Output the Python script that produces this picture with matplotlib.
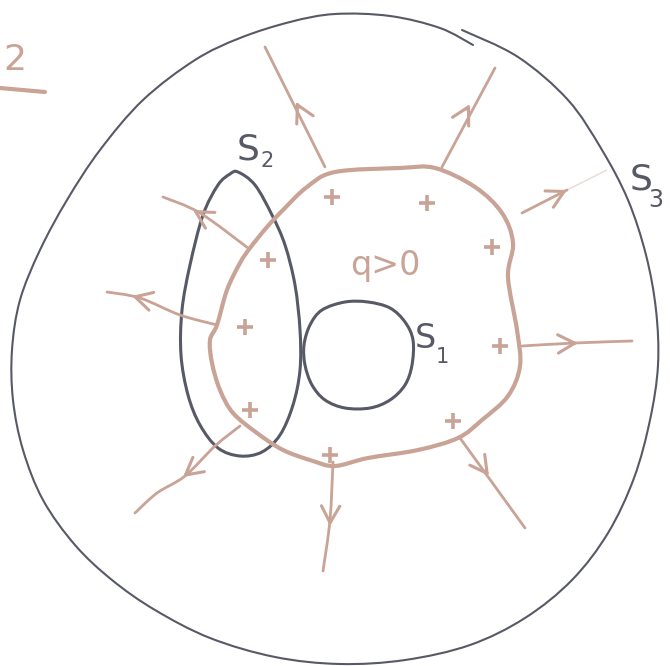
import numpy as np
import matplotlib
matplotlib.use("Agg")
import matplotlib.pyplot as plt
from matplotlib.path import Path
from matplotlib.patches import PathPatch

# ---- shape outlines (image pixel coordinates) ----
big_circle_S3 = [(462,30),(518,57),(568,100),(602,150),(628,200),(646,255),(656,310),
                 (658,365),(650,420),(634,478),(608,533),(572,580),(525,618),(470,645),
                 (405,660),(340,664),(275,657),(210,638),(155,610),(112,580),(75,545),
                 (43,500),(23,450),(13,400),(12,350),(20,300),(40,250),(67,200),(100,150),
                 (143,100),(195,60),(240,38),(290,22),(335,14),(390,16),(440,28),(473,45)]

charge_blob = [(335,172),(400,168),(435,168),(475,187),(502,213),(513,243),(508,277),
               (517,330),(520,366),(508,396),(482,420),(458,438),(418,450),(368,458),
               (335,466),(313,461),(283,450),(257,433),(233,413),(220,390),(212,363),
               (210,340),(217,325),(227,290),(240,263),(250,248),(267,227),(283,210),
               (307,187)]

surface_S2 = [(238,172),(255,185),(272,215),(285,245),(295,285),(300,330),(300,370),
              (293,405),(280,435),(262,452),(240,456),(218,448),(200,425),(188,395),
              (181,355),(182,310),(190,265),(203,215),(218,185),(230,174)]

surface_S1 = [(368,302),(390,308),(405,322),(413,340),(412,365),(405,385),(390,400),
              (370,408),(345,408),(325,400),(312,385),(305,365),(304,345),(310,325),
              (322,310),(345,302)]

field_lines = [
    [(325,167),(265,47)],
    [(442,167),(495,68)],
    [(522,213),(567,190)],
    [(522,346),(575,343),(632,341)],
    [(460,438),(525,528)],
    [(333,462),(330,520),(323,571)],
    [(240,426),(215,446),(185,476),(157,493),(135,513)],
    [(217,325),(180,315),(140,298),(107,292)],
    [(248,248),(200,213),(163,197)],
]
arrow_tips = [(296,102),(470,104),(567,190),(578,343),(489,476),(330,526),(183,477),(132,296),(193,210)]
arrow_dirs = [(-60,-120),(53,-99),(45,-23),(110,-5),(65,90),(-3,100),(-100,80),(-110,-30),(-85,-51)]

faint_line = [(567,190),(607,170)]

plus_signs = [(332,197),(427,203),(492,247),(268,260),(245,327),(500,346),(453,421),(250,410),(330,455)]

BROWN = '#c8a396'
GRAY = '#575a66'


def spline_path(pts, closed):
    P = np.array(pts, float)
    if closed:
        ext = np.vstack([P[-1], P, P[0], P[1]])
    else:
        ext = np.vstack([P[0], P, P[-1]])
    verts = [ext[1]]
    codes = [Path.MOVETO]
    for i in range(1, len(ext) - 2):
        p0, p1, p2, p3 = ext[i-1], ext[i], ext[i+1], ext[i+2]
        c1 = p1 + (p2 - p0) / 6.0
        c2 = p2 - (p3 - p1) / 6.0
        verts += [c1, c2, p2]
        codes += [Path.CURVE4] * 3
    return Path(verts, codes)


fig = plt.figure(figsize=(6.70, 6.66), dpi=100)
ax = fig.add_axes([0, 0, 1, 1])
ax.set_xlim(0, 670)
ax.set_ylim(666, 0)
ax.axis('off')

ax.add_patch(PathPatch(spline_path(big_circle_S3, False), fill=False, ec=GRAY, lw=1.5,
                       capstyle='round', joinstyle='round'))
ax.add_patch(PathPatch(spline_path(surface_S2, True), fill=False, ec=GRAY, lw=2.2))
ax.add_patch(PathPatch(spline_path(surface_S1, True), fill=False, ec=GRAY, lw=2.2))
ax.add_patch(PathPatch(spline_path(charge_blob, True), fill=False, ec=BROWN, lw=3.0))

for line in field_lines:
    ax.add_patch(PathPatch(spline_path(line, False), fill=False, ec=BROWN, lw=2.0,
                           capstyle='round'))
ax.add_patch(PathPatch(spline_path(faint_line, False), fill=False, ec=BROWN, lw=1.0, alpha=0.4))

for (tx, ty), (dx, dy) in zip(arrow_tips, arrow_dirs):
    n = np.hypot(dx, dy)
    ax.annotate('', xy=(tx, ty), xytext=(tx - dx / n * 6, ty - dy / n * 6),
                arrowprops=dict(arrowstyle='->,head_length=0.55,head_width=0.3',
                                color=BROWN, lw=2.2, mutation_scale=22,
                                shrinkA=0, shrinkB=0))

px = [p[0] for p in plus_signs]
py = [p[1] for p in plus_signs]
ax.plot(px, py, ls='none', marker='+', ms=11, mew=2.6, color=BROWN)

# labels
ax.text(248, 149, 'S', fontsize=26, color=GRAY, ha='center', va='center')
ax.text(267, 161, '2', fontsize=15, color=GRAY, ha='center', va='center')
ax.text(425, 338, 'S', fontsize=24, color=GRAY, ha='center', va='center')
ax.text(442, 357, '1', fontsize=15, color=GRAY, ha='center', va='center')
ax.text(641, 180, 'S', fontsize=26, color=GRAY, ha='center', va='center')
ax.text(656, 200, '3', fontsize=17, color=GRAY, ha='center', va='center')
ax.text(385, 265, 'q>0', fontsize=24, color=BROWN, ha='center', va='center')
ax.text(15, 60, '2', fontsize=26, color=BROWN, ha='center', va='center')
ax.plot([0, 45], [88, 92], color=BROWN, lw=3.0, solid_capstyle='round')

fig.savefig('out.png', dpi=100)
